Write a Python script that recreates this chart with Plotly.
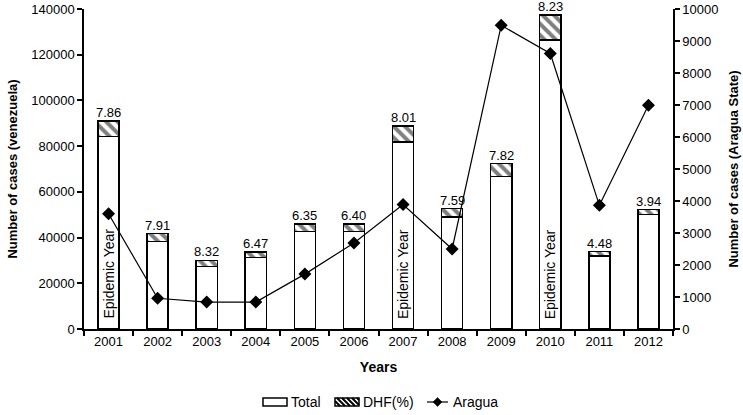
import plotly.graph_objects as go

years = [2001, 2002, 2003, 2004, 2005, 2006, 2007, 2008, 2009, 2010, 2011, 2012]
total_cases = [84300, 38300, 27300, 31300, 42700, 42700, 81800, 49000, 66800, 126500, 32000, 50000]
dhf_cases = [6600, 3400, 2700, 2400, 3300, 3300, 7000, 3700, 5500, 10900, 1900, 2200]
dhf_pct_labels = ["7.86", "7.91", "8.32", "6.47", "6.35", "6.40", "8.01", "7.59", "7.82", "8.23", "4.48", "3.94"]
aragua = [3600, 960, 840, 840, 1715, 2690, 3890, 2500, 9490, 8610, 3865, 6990]
epidemic_years = [2001, 2007, 2010]

FONT = "Liberation Sans, Arial, sans-serif"
W, H = 743, 415
ML, MR, MT, MB = 84, 70, 9, 86
PW, PH = W - ML - MR, H - MT - MB


def px(x):
    return (x - ML) / PW


def py(y):
    return (H - MB - y) / PH


fig = go.Figure()
fig.add_trace(go.Bar(
    x=years, y=total_cases, name="Total", width=0.43,
    marker=dict(color="white", line=dict(color="black", width=1.5)),
))
fig.add_trace(go.Bar(
    x=years, y=dhf_cases, name="DHF(%)", width=0.43,
    marker=dict(color="white", line=dict(color="black", width=1.5),
                pattern=dict(shape="\\", fgcolor="black", bgcolor="white", size=8, solidity=0.5)),
))
fig.add_trace(go.Scatter(
    x=years, y=aragua, name="Aragua", yaxis="y2", mode="lines+markers",
    line=dict(color="black", width=1.2),
    marker=dict(symbol="diamond", size=10, color="black"),
))

for yr, t, d, lab in zip(years, total_cases, dhf_cases, dhf_pct_labels):
    fig.add_annotation(x=yr, y=t + d, xref="x", yref="y", text=lab, showarrow=False,
                       yanchor="bottom", yshift=-1,
                       font=dict(size=13, color="black", family=FONT))

for yr in epidemic_years:
    fig.add_annotation(x=yr, y=0, xref="x", yref="y", text="Epidemic Year", showarrow=False,
                       textangle=-90, yanchor="bottom", xanchor="center", yshift=8,
                       font=dict(size=14, color="black", family=FONT))

# ---- custom legend (wide swatches like the reference) ----
shapes = []
ly0, ly1 = 398, 406
shapes.append(dict(type="rect", xref="paper", yref="paper", x0=px(263), x1=px(287),
                   y0=py(ly1), y1=py(ly0), line=dict(color="black", width=1.5), fillcolor="white"))
hx0, hx1 = 335, 359
hh = ly1 - ly0
for k in range(-hh, hx1 - hx0, 5):
    t0 = max(0, -k)
    t1 = min(hh, hx1 - hx0 - k)
    if t1 <= t0:
        continue
    shapes.append(dict(type="line", xref="paper", yref="paper",
                       x0=px(hx0 + k + t0), y0=py(ly0 + t0), x1=px(hx0 + k + t1), y1=py(ly0 + t1),
                       line=dict(color="black", width=2)))
shapes.append(dict(type="rect", xref="paper", yref="paper", x0=px(hx0), x1=px(hx1),
                   y0=py(ly1), y1=py(ly0), line=dict(color="black", width=1.5)))
lyc = 402
shapes.append(dict(type="line", xref="paper", yref="paper", x0=px(427), x1=px(448),
                   y0=py(lyc), y1=py(lyc), line=dict(color="black", width=1.2)))
dc, dr = 437.5, 4.5
shapes.append(dict(type="path", xref="paper", yref="paper",
                   path=f"M {px(dc - dr)} {py(lyc)} L {px(dc)} {py(lyc - dr)} L {px(dc + dr)} {py(lyc)} L {px(dc)} {py(lyc + dr)} Z",
                   fillcolor="black", line=dict(color="black", width=0.5)))

for text, xl in [("Total", 289), ("DHF(%)", 361), ("Aragua", 451)]:
    fig.add_annotation(x=px(xl), y=py(lyc), xref="paper", yref="paper", text=text,
                       showarrow=False, xanchor="left", yanchor="middle",
                       font=dict(size=14, color="black", family=FONT))

fig.update_layout(
    width=W, height=H,
    margin=dict(l=ML, r=MR, t=MT, b=MB),
    paper_bgcolor="white", plot_bgcolor="white",
    barmode="stack",
    font=dict(family=FONT, size=13, color="black"),
    showlegend=False,
    shapes=shapes,
    xaxis=dict(
        range=[2000.5, 2012.5], tickmode="array", tickvals=years,
        ticktext=[str(y) for y in years], automargin=False,
        showline=True, linecolor="black", linewidth=1.5,
        ticks="", showgrid=False, zeroline=False, tickfont=dict(size=13),
        minor=dict(tick0=2000.5, dtick=1, ticks="outside", ticklen=5, tickcolor="black",
                   tickwidth=1.5, showgrid=False),
        title=dict(text="<b>Years</b>", font=dict(size=14), standoff=14),
    ),
    yaxis=dict(
        range=[0, 140000], dtick=20000, showline=True, linecolor="black", linewidth=1.5,
        ticks="outside", ticklen=5, tickcolor="black", tickwidth=1.5, showgrid=False,
        zeroline=False, tickfont=dict(size=13), tickformat="d", automargin=False,
        ticklabeloverflow="allow",
        title=dict(text="<b>Number of cases (venezuela)</b>", font=dict(size=13), standoff=11),
    ),
    yaxis2=dict(
        range=[0, 10000], dtick=1000, overlaying="y", side="right", showline=True,
        linecolor="black", linewidth=1.5, ticks="outside", ticklen=5, tickcolor="black",
        tickwidth=1.5, showgrid=False, zeroline=False, tickfont=dict(size=13), tickformat="d",
        automargin=False, ticklabeloverflow="allow",
        title=dict(text="<b>Number of cases (Aragua State)</b>", font=dict(size=13), standoff=11),
    ),
)

fig.write_html("out.html", config={"displayModeBar": False},
               post_script="document.body.style.margin='0px';document.body.style.overflow='hidden';")
